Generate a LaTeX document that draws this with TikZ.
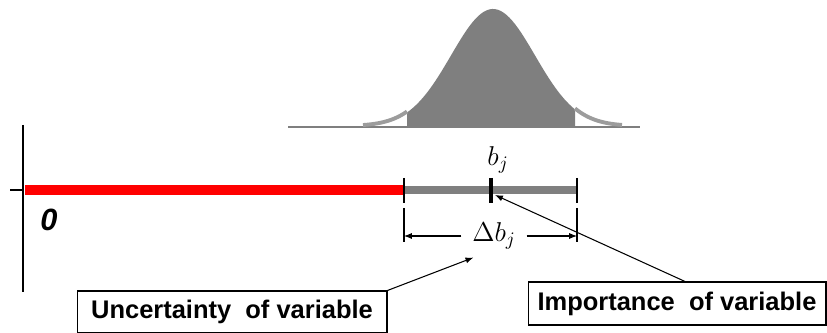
\RequirePackage{fix-cm}
\documentclass[tikz,border=0pt]{standalone}
\usepackage{fontspec}
\setsansfont{Liberation Sans}
\usetikzlibrary{arrows.meta,positioning,calc}
\definecolor{bellgray}{HTML}{7F7F7F}
\definecolor{tailgray}{HTML}{9C9C9C}

\begin{document}
\begin{tikzpicture}[x=0.02cm, y=-0.02cm, >={Latex[length=4.5pt,width=3.5pt]},
  every node/.style={font=\fontsize{15.5}{18}\selectfont},
  labelbox/.style={draw, line width=0.6pt, inner sep=0pt, font=\sffamily\bfseries\fontsize{14.5}{16}\selectfont},
  thinline/.style={line width=0.6pt},
  bell/.style={domain=#1, samples=60}]
\useasboundingbox (0,0) rectangle (827,333);
\coordinate (o) at (23,190);
\coordinate (lo) at (404,190);
\coordinate (hi) at (577,190);
\coordinate (bj) at (491,190);
\coordinate (bjtip) at (495,195);
% bell curve
\draw[bellgray, line width=1.2pt] (288,127) -- (640,127);
\fill[bellgray] (407,127) -- plot[bell=407:575] (\x, {127-118*exp(-0.5*((\x-493)/42)^2)}) -- (575,127) -- cycle;
\foreach \a/\b in {363/407,575/622}
  \draw[tailgray, line width=2.2pt] plot[bell=\a:\b] (\x, {126-118*exp(-0.5*((\x-493)/42)^2)});
% axis and bars
\draw[thinline] (23,125) -- (23,292);
\draw[thinline] (10,190) -- (o);
\draw[red, line width=5.2pt] ($(o)+(2,0)$) -- (lo);
\draw[bellgray, line width=4.4pt] (lo) -- (hi);
\foreach \p in {lo,hi} {
  \draw[thinline] ($(\p)+(0,-12)$) -- ($(\p)+(0,13)$);
  \draw[thinline] ($(\p)+(0,18)$) -- ($(\p)+(0,52)$);
}
\draw[line width=2.3pt] ($(bj)+(0,-12)$) -- ($(bj)+(0,13)$);
\node (bjl) at (498,160) {$b_j$};
\node[inner xsep=6pt] (db) at (494,236) {$\Delta b_j$};
\draw[thinline,->] (db.west) -- (db.west -| lo);
\draw[thinline,->] (db.east) -- (db.east -| hi);
\node[font=\sffamily\bfseries\itshape\fontsize{17.5}{20}\selectfont] (zero) at (49,220) {0};
% label boxes
\node[labelbox, minimum width=6.2cm, minimum height=0.84cm] (unc) at (232,312) {Uncertainty\ \ of variable};
\node[labelbox, minimum width=5.96cm, minimum height=0.86cm] (imp) at (677,303.5) {Importance\ \ of variable};
\draw[thinline,->] (unc.north east) -- ($(db.south west)+(12,2)$);
\draw[thinline,->] ($(imp.north)+(8,0)$) -- (bjtip);
\end{tikzpicture}
\end{document}
